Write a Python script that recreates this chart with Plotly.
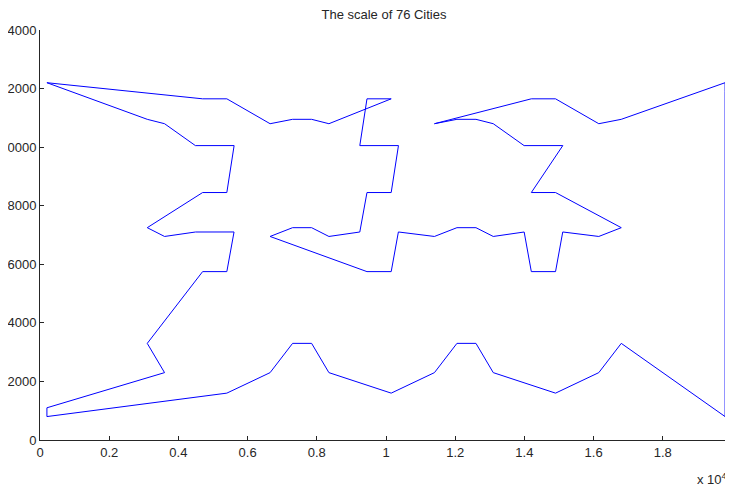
import plotly.graph_objects as go

# Tour through the 76 cities (x, y), closed loop
tour_x = [200, 4700, 5400, 6650, 7300, 7850, 8350, 10150, 9450, 9243,
          10360, 10150, 9450, 9243, 8350, 7850, 7300, 6650, 9450, 10150,
          10358, 11400, 12050, 12600, 13100, 13993, 14200, 14900, 15108, 16150,
          16800, 14900, 14200, 15110, 13992, 13100, 12600, 12050, 11400, 14200,
          14900, 16150, 16800, 19800, 19800, 19800, 19800, 16800, 16150, 14900,
          13100, 12600, 12050, 11400, 10150, 8350, 7850, 7300, 6650, 5400,
          200, 200, 3600, 3100, 4700, 5400, 5608, 4493, 3600, 3100,
          4700, 5400, 5610, 4492, 3600, 3100, 200]
tour_y = [12200, 11650, 11650, 10800, 10950, 10950, 10800, 11650, 11650, 10052,
          10053, 8450, 8450, 7102, 6950, 7250, 7250, 6950, 5750, 5750,
          7103, 6950, 7250, 7250, 6950, 7102, 5750, 5750, 7103, 6950,
          7250, 8450, 8450, 10053, 10052, 10800, 10950, 10950, 10800, 11650,
          11650, 10800, 10950, 12200, 11900, 10000, 800, 3300, 2300, 1600,
          2300, 3300, 3300, 2300, 1600, 2300, 3300, 3300, 2300, 1600,
          800, 1100, 2300, 3300, 5750, 5750, 7103, 7102, 6950, 7250,
          8450, 8450, 10053, 10052, 10800, 10950, 12200]

x_tick_vals = [0, 2000, 4000, 6000, 8000, 10000, 12000, 14000, 16000, 18000, 20000]
x_tick_text = ["0", "0.2", "0.4", "0.6", "0.8", "1", "1.2", "1.4", "1.6", "1.8", "2"]
y_tick_vals = [0, 2000, 4000, 6000, 8000, 10000, 12000, 14000]
y_tick_text = ["0", "2000", "4000", "6000", "8000", "10000", "12000", "14000"]

fig = go.Figure()
fig.add_trace(go.Scatter(x=tour_x, y=tour_y, mode="lines",
                         line=dict(color="#0000ff", width=1), hoverinfo="skip"))

FAM = "Liberation Sans, Arial, sans-serif"
font = dict(family=FAM, size=13, color="#262626")

# plot area in figure px: x 32..724, y 22..432 (page is offset by the 8px body margin)
fig.update_layout(
    width=733, height=485,
    margin=dict(l=32, r=9, t=22, b=53, autoexpand=False),
    paper_bgcolor="white", plot_bgcolor="white",
    showlegend=False,
    font=font,
    title=dict(text="The scale of 76 Cities", x=376 / 733, xanchor="center",
               y=1 - 6 / 485, yanchor="middle",
               font=dict(family=FAM, size=13, color="#262626")),
    xaxis=dict(range=[0, 20000], tickvals=x_tick_vals, ticktext=x_tick_text,
               showgrid=False, zeroline=False, showline=True, linecolor="#262626",
               linewidth=1, ticks="inside", ticklen=4, tickcolor="#262626",
               automargin=False, tickfont=font, ticklabeloverflow="allow"),
    yaxis=dict(range=[0, 14000], tickvals=y_tick_vals, ticktext=y_tick_text,
               showgrid=False, zeroline=False, showline=True, linecolor="#262626",
               linewidth=1, ticks="inside", ticklen=4, tickcolor="#262626",
               automargin=False, tickfont=font, ticklabeloverflow="allow"),
    annotations=[dict(text="x 10<sup>4</sup>", xref="paper", yref="paper",
                      x=0.995, y=-0.095, xanchor="right", yanchor="middle", showarrow=False,
                      font=dict(family=FAM, size=13, color="#262626"))],
)

fig.write_html("out.html")
